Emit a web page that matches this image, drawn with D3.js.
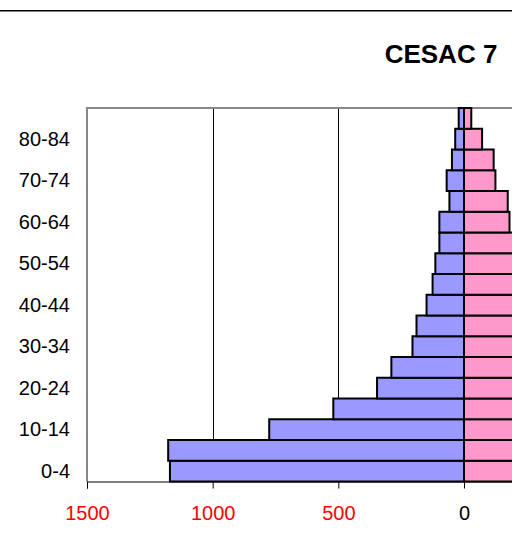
<!DOCTYPE html>
<html>
<head>
<meta charset="utf-8">
<script src="https://cdn.jsdelivr.net/npm/d3@7"></script>
<style>
  html, body { margin: 0; padding: 0; background: #fff; }
  svg { display: block; font-family: Arial, "Liberation Sans", sans-serif; }
</style>
</head>
<body>
<svg id="chart" width="512" height="558"></svg>
<script>
// Age groups (bottom to top)
const ageGroups = ["0-4","5-9","10-14","15-19","20-24","25-29","30-34","35-39","40-44",
                   "45-49","50-54","55-59","60-64","65-69","70-74","75-79","80-84","85+"];
// Males (left side)
const males   = [1170, 1177, 775, 520, 346, 289, 205, 189, 149, 125, 114, 98, 98, 58, 69, 48, 35, 21];
// Females (right side; lower rows run past the visible edge)
const females = [1150, 1100, 800, 600, 500, 420, 380, 340, 300, 270, 240, 210, 181, 174, 125, 118, 72, 29];
// Axis ticks (visible part of the axis)
const xTicks = [-1500, -1000, -500, 0];
const yLabelShown = ["0-4","10-14","20-24","30-34","40-44","50-54","60-64","70-74","80-84"];
const title = "CESAC 7";

const svg = d3.select("#chart");
const plot = { left: 87, top: 108, bottom: 481.5, right: 841 };

const x = d3.scaleLinear().domain([-1500, 1500]).range([plot.left, plot.right]);
const y = d3.scaleBand().domain(ageGroups).range([plot.bottom, plot.top]).padding(0);

// top border line
svg.append("line").attr("x1", 0).attr("x2", 512).attr("y1", 10.75).attr("y2", 10.75)
  .attr("stroke", "#000").attr("stroke-width", 1.5);

// title
svg.append("text").attr("x", 441).attr("y", 63).attr("text-anchor", "middle")
  .attr("font-size", 26).attr("font-weight", "bold").attr("fill", "#000").text(title);

// gridlines
svg.append("g").selectAll("line").data(xTicks.filter(d => d > -1500 && d !== 0)).join("line")
  .attr("x1", d => Math.round(x(d)) + 0.5).attr("x2", d => Math.round(x(d)) + 0.5)
  .attr("y1", plot.top).attr("y2", plot.bottom)
  .attr("stroke", "#000").attr("stroke-width", 1);

// plot frame (gray)
svg.append("path")
  .attr("d", `M${plot.left},${plot.bottom} V${plot.top} H${plot.right}`)
  .attr("fill", "none").attr("stroke", "#888").attr("stroke-width", 2);

// bars
const rows = ageGroups.map((a, i) => ({ age: a, m: males[i], f: females[i] }));
svg.append("g").selectAll("rect").data(rows).join("rect")
  .attr("x", d => x(-d.m)).attr("width", d => x(0) - x(-d.m))
  .attr("y", d => y(d.age)).attr("height", y.bandwidth())
  .attr("fill", "#9999FF").attr("stroke", "#000").attr("stroke-width", 2);
svg.append("g").selectAll("rect").data(rows).join("rect")
  .attr("x", x(0)).attr("width", d => x(d.f) - x(0))
  .attr("y", d => y(d.age)).attr("height", y.bandwidth())
  .attr("fill", "#FF99CC").attr("stroke", "#000").attr("stroke-width", 2);

// x axis
const xAxis = d3.axisBottom(x).tickValues(xTicks).tickSize(7).tickPadding(17)
  .tickFormat(d => Math.abs(d));
const gx = svg.append("g").attr("transform", `translate(0,${plot.bottom})`).call(xAxis);
gx.select(".domain").attr("stroke", "#000").attr("stroke-width", 1);
gx.selectAll(".tick line").attr("stroke", "#000");
gx.selectAll(".tick text").attr("font-size", 20).attr("font-family", "Arial, 'Liberation Sans', sans-serif")
  .attr("fill", d => d < 0 ? "#FF0000" : "#000");

// y labels
const yAxis = d3.axisLeft(y).tickValues(yLabelShown).tickSize(0).tickPadding(17);
const gy = svg.append("g").attr("transform", `translate(${plot.left},0)`).call(yAxis);
gy.select(".domain").remove();
gy.selectAll(".tick text").attr("font-size", 20).attr("font-family", "Arial, 'Liberation Sans', sans-serif")
  .attr("fill", "#000");
</script>
</body>
</html>
